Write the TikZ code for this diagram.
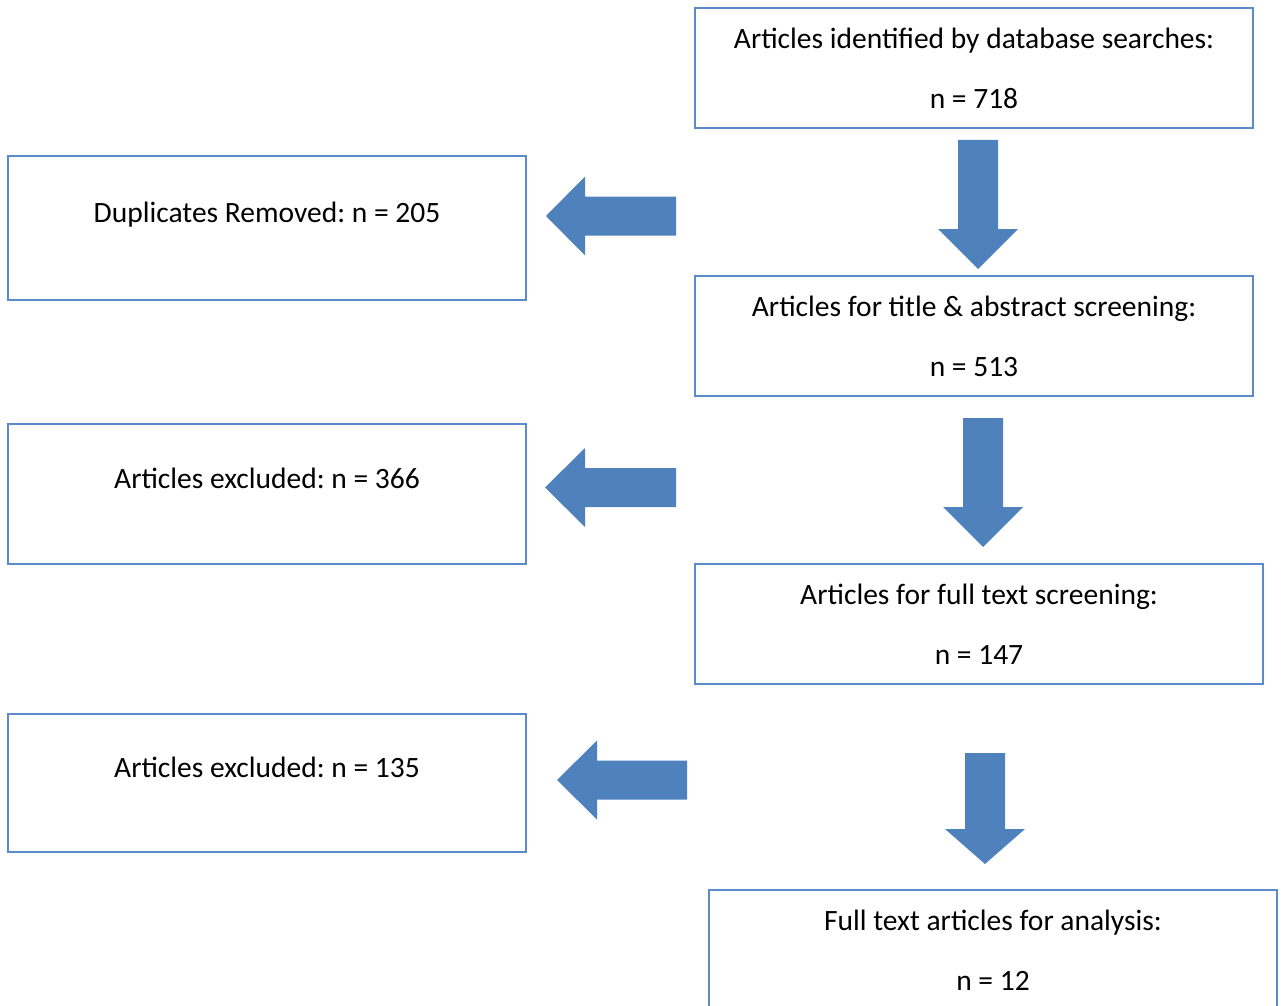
\documentclass[tikz,border=0pt]{standalone}
\usepackage{fontspec}
\setmainfont{Carlito}
\frenchspacing
\usetikzlibrary{positioning}
\definecolor{officeblue}{RGB}{79,129,189}
\definecolor{boxblue}{RGB}{91,139,205}

\begin{document}
\begin{tikzpicture}[
  x=1pt, y=-1pt,
  font=\fontsize{29.5}{60}\selectfont,
  stagebox/.style={draw=boxblue, line width=1.4pt, align=center, inner sep=0pt},
  wide/.style={stagebox, minimum width=558pt, minimum height=120pt},
  side/.style={stagebox, minimum width=518pt, text height=21pt, text depth=32pt},
  blockarrow/.style={fill=officeblue, draw=none}
]
\useasboundingbox (0,0) rectangle (1282,1006);
\clip (0,0) rectangle (1282,1006);

% main flow
\node[wide] (found) at (974,68) {Articles identified by database searches:\\n = 718};
\node[wide] (screen) at (974,336) {Articles for title \& abstract screening:\\n = 513};
\node[wide, minimum width=568pt] (fulltext) at (979,624) {Articles for full text screening:\\n = 147};
\node[wide, minimum width=568pt] (analysis) at (993,950) {Full text articles for analysis:\\n = 12};

% removed records
\node[side, minimum height=144pt] (dupes) at (267,228) {Duplicates Removed: n = 205};
\node[side, minimum height=140pt] (excl1) at (267,494) {Articles excluded: n = 366};
\node[side, minimum height=138pt] (excl2) at (267,783) {Articles excluded: n = 135};

% down arrows: centre/top/head base/tip
\foreach \cx/\top/\base/\tip in {978/140/229/269, 983/418/507/547, 985/753/829/864}{
  \fill[blockarrow] (\cx-20,\top) -- (\cx+20,\top) -- (\cx+20,\base) -- (\cx+40,\base)
    -- (\cx,\tip) -- (\cx-40,\base) -- (\cx-20,\base) -- cycle;
}

% left arrows: tip/centre/head base/end
\foreach \tx/\cy/\base/\rx in {546/216/585/676, 545/487.5/585/676, 557/780/597/687}{
  \fill[blockarrow] (\rx,\cy-19.5) -- (\rx,\cy+19.5) -- (\base,\cy+19.5) -- (\base,\cy+39.5)
    -- (\tx,\cy) -- (\base,\cy-39.5) -- (\base,\cy-19.5) -- cycle;
}
\end{tikzpicture}
\end{document}
